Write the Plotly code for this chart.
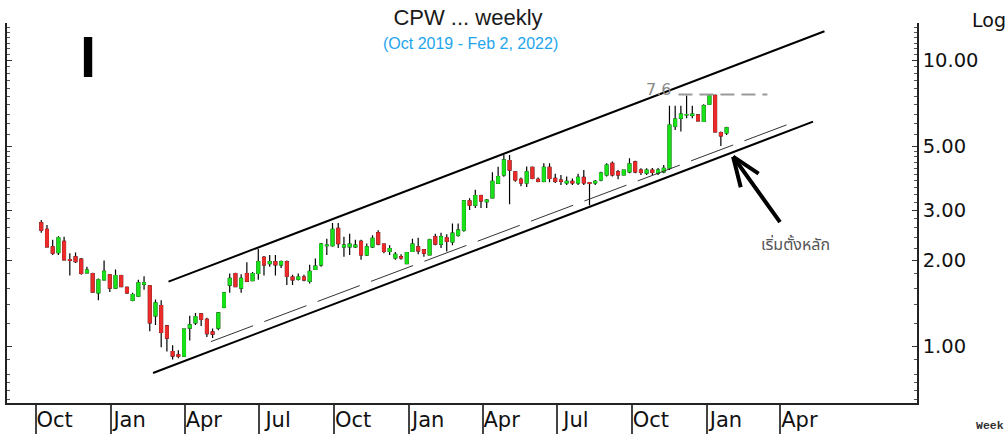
import math
import numpy as np
import pandas as pd
import plotly.graph_objects as go

# ---------------- data ----------------
first_week = "2019-10-08"
opens = [2.71, 2.57, 2.23, 2.13, 2.33, 2.01, 2.06, 2.02, 1.81, 1.80,
         1.54, 1.71, 1.78, 1.60, 1.77, 1.61, 1.45, 1.50, 1.65, 1.63,
         1.28, 1.39, 1.18, 0.96, 0.935, 0.925, 1.16, 1.21, 1.30, 1.245,
         1.125, 1.16, 1.37, 1.64, 1.80, 1.60, 1.80, 1.70, 1.80, 2.05,
         1.95, 1.98, 1.93, 1.98, 1.75, 1.72, 1.75, 1.69, 1.86, 1.93,
         2.25, 2.25, 2.59, 2.23, 2.23, 2.23, 2.33, 2.09, 2.23, 2.50,
         2.28, 2.15, 2.04, 2.06, 1.95, 2.15, 2.23, 2.18, 2.09, 2.42,
         2.28, 2.40, 2.32, 2.45, 2.55, 3.23, 3.12, 3.37, 3.21, 3.31,
         3.72, 3.98, 4.47, 4.08, 3.84, 3.73, 4.23, 3.84, 3.78, 4.23,
         3.87, 3.82, 3.73, 3.78, 3.73, 3.90, 3.74, 3.73, 3.82, 3.98,
         4.37, 4.08, 3.98, 4.08, 4.42, 4.14, 4.04, 4.14, 4.04, 4.08,
         4.20, 5.89, 6.28, 6.45, 6.43, 6.45, 6.12, 7.03, 7.55, 5.60,
         5.58]
highs = [2.77, 2.66, 2.36, 2.43, 2.42, 2.12, 2.13, 2.04, 1.90, 1.81,
         1.73, 2.00, 1.79, 1.86, 1.78, 1.62, 1.54, 1.71, 1.76, 1.64,
         1.46, 1.45, 1.19, 1.01, 0.97, 1.15, 1.28, 1.31, 1.31, 1.26,
         1.155, 1.32, 1.55, 1.80, 1.81, 1.79, 1.97, 1.82, 2.19, 2.07,
         2.09, 2.09, 2.00, 2.00, 1.78, 1.80, 1.78, 1.93, 2.03, 2.30,
         2.38, 2.70, 2.70, 2.42, 2.48, 2.36, 2.36, 2.29, 2.45, 2.55,
         2.29, 2.26, 2.14, 2.10, 2.14, 2.38, 2.40, 2.19, 2.38, 2.48,
         2.50, 2.47, 2.69, 2.69, 3.25, 3.30, 3.53, 3.39, 3.28, 4.07,
         4.25, 4.67, 4.67, 4.08, 3.90, 4.26, 4.26, 3.90, 4.37, 4.37,
         4.02, 3.98, 3.93, 3.87, 4.02, 4.14, 3.76, 3.82, 4.08, 4.37,
         4.43, 4.14, 4.16, 4.55, 4.46, 4.20, 4.20, 4.21, 4.21, 4.31,
         6.95, 6.95, 6.95, 7.55, 6.95, 6.49, 7.03, 7.60, 7.60, 5.65,
         5.87]
lows = [2.50, 2.22, 2.09, 2.09, 2.00, 1.77, 1.96, 1.78, 1.80, 1.54,
        1.45, 1.70, 1.55, 1.59, 1.61, 1.53, 1.44, 1.49, 1.58, 1.13,
        1.19, 0.994, 0.96, 0.90, 0.91, 0.92, 1.05, 1.19, 1.18, 1.08,
        1.07, 1.14, 1.36, 1.54, 1.61, 1.54, 1.68, 1.69, 1.71, 1.77,
        1.90, 1.77, 1.88, 1.64, 1.64, 1.70, 1.69, 1.66, 1.85, 1.90,
        2.09, 2.23, 2.21, 2.06, 2.09, 2.21, 2.01, 2.07, 2.21, 2.26,
        2.12, 2.09, 2.01, 2.01, 1.94, 2.14, 2.10, 2.06, 2.08, 2.26,
        2.21, 2.15, 2.26, 2.42, 2.52, 3.00, 3.05, 3.05, 3.05, 3.30,
        3.70, 3.92, 3.14, 3.77, 3.63, 3.61, 3.84, 3.75, 3.75, 3.75,
        3.73, 3.67, 3.67, 3.67, 3.67, 3.67, 3.12, 3.67, 3.78, 3.93,
        3.93, 3.84, 3.96, 4.03, 4.03, 3.98, 3.98, 3.98, 3.98, 4.03,
        4.14, 5.71, 5.65, 6.28, 6.28, 6.12, 6.09, 6.99, 5.61, 5.02,
        5.49]
closes = [2.55, 2.23, 2.12, 2.40, 2.01, 2.00, 1.98, 1.80, 1.85, 1.55,
          1.71, 1.83, 1.60, 1.77, 1.62, 1.54, 1.52, 1.67, 1.67, 1.21,
          1.42, 1.12, 1.07, 0.926, 0.925, 1.15, 1.19, 1.27, 1.245, 1.11,
          1.105, 1.31, 1.54, 1.73, 1.62, 1.73, 1.69, 1.80, 1.98, 1.93,
          1.98, 1.93, 1.98, 1.76, 1.71, 1.75, 1.71, 1.83, 1.91, 2.28,
          2.26, 2.57, 2.29, 2.26, 2.28, 2.26, 2.09, 2.23, 2.39, 2.28,
          2.15, 2.20, 2.10, 2.04, 2.13, 2.28, 2.16, 2.12, 2.36, 2.28,
          2.42, 2.33, 2.49, 2.55, 3.23, 3.12, 3.37, 3.23, 3.25, 3.78,
          3.93, 4.49, 4.14, 3.82, 3.73, 4.08, 3.87, 3.78, 4.23, 3.87,
          3.78, 3.78, 3.78, 3.73, 3.90, 3.73, 3.72, 3.78, 4.04, 4.31,
          3.98, 3.98, 4.14, 4.35, 4.08, 4.06, 4.14, 4.06, 4.14, 4.20,
          5.95, 6.24, 6.49, 6.47, 6.49, 6.15, 6.95, 7.53, 5.63, 5.45,
          5.82]

# channel lines (date, price)
upper_x = ["2020-03-12", "2022-05-25"]
upper_y = [1.685, 12.65]
lower_x = ["2020-02-22", "2022-05-11"]
lower_y = [0.808, 6.11]
inner_x = ["2020-05-03", "2022-04-19"]
inner_y = [1.04, 6.11]
peak_x = ["2021-11-27", "2022-03-16"]
peak_level = 7.6
arrow_x = "2022-02-02"
arrow_y = 4.61

tick_dates = ["2019-10-01", "2020-01-01", "2020-04-01", "2020-07-01", "2020-10-01",
              "2021-01-01", "2021-04-01", "2021-07-01", "2021-10-01", "2022-01-01",
              "2022-04-01"]
tick_labels = ["Oct", "Jan", "Apr", "Jul", "Oct", "Jan", "Apr", "Jul", "Oct", "Jan", "Apr"]
y_tickvals = [1, 2, 3, 5, 10]
y_ticktext = ["1.00", "2.00", "3.00", "5.00", "10.00"]
y_minor = [0.65, 0.7, 0.75, 0.8, 0.9, 1.2, 1.4, 1.6, 1.8, 2.2, 2.4, 2.6, 2.8,
           3.2, 3.4, 3.6, 3.8, 4.0, 4.2, 4.4, 4.6, 4.8, 5.5, 6.0, 6.5, 7.0, 7.5,
           8.0, 8.5, 9.0, 9.5, 10.5, 11, 11.5, 12, 12.5, 13]

title_text = "CPW ... weekly"
subtitle_text = "(Oct 2019 - Feb 2, 2022)"
note_text = "เริ่มตั้งหลัก"

# ---------------- figure ----------------
GREEN = "#19e319"
RED = "#ec2b2b"
dates = pd.date_range(first_week, periods=len(opens), freq="7D")
o = np.array(opens); c = np.array(closes)
body_hi = np.maximum(o, c)
body_lo = np.minimum(o, c)

fig = go.Figure()
fig.add_trace(go.Candlestick(
    x=dates, open=opens, high=highs, low=lows, close=closes,
    increasing=dict(line=dict(color="black", width=1.2), fillcolor=GREEN),
    decreasing=dict(line=dict(color="black", width=1.2), fillcolor=RED),
    whiskerwidth=0, showlegend=False, hoverinfo="skip"))
fig.add_trace(go.Candlestick(
    x=dates, open=opens, high=body_hi, low=body_lo, close=closes,
    increasing=dict(line=dict(color=GREEN, width=1), fillcolor=GREEN),
    decreasing=dict(line=dict(color=RED, width=1), fillcolor=RED),
    whiskerwidth=0, showlegend=False, hoverinfo="skip"))

fig.add_trace(go.Scatter(x=upper_x, y=upper_y, mode="lines",
                         line=dict(color="black", width=2), showlegend=False, hoverinfo="skip"))
fig.add_trace(go.Scatter(x=lower_x, y=lower_y, mode="lines",
                         line=dict(color="black", width=2), showlegend=False, hoverinfo="skip"))
fig.add_trace(go.Scatter(x=inner_x, y=inner_y, mode="lines",
                         line=dict(color="#333333", width=1, dash="45px,12px"),
                         showlegend=False, hoverinfo="skip"))
fig.add_trace(go.Scatter(x=peak_x, y=[peak_level, peak_level], mode="lines",
                         line=dict(color="#999999", width=2, dash="14px,7px"),
                         showlegend=False, hoverinfo="skip"))

ann = []
ann.append(dict(x=peak_x[0], y=math.log10(peak_level), xref="x", yref="y",
                text=f"{peak_level}", showarrow=False, xanchor="right", yanchor="middle",
                xshift=-5, yshift=5, font=dict(family="DejaVu Sans", size=16, color="#8a8a8a")))
# arrow: shaft and open head
for ax_, ay_ in [(48, 67), (27, 18), (8, 32)]:
    ann.append(dict(x=arrow_x, y=math.log10(arrow_y), xref="x", yref="y", text="",
                    showarrow=True, arrowhead=0, arrowwidth=4, arrowcolor="black",
                    ax=ax_, ay=ay_, axref="pixel", ayref="pixel"))
ann.append(dict(x=(795 - 7) / 910, y=(403 - 245) / 380, xref="paper", yref="paper",
                text=note_text, showarrow=False, xanchor="center", yanchor="middle",
                font=dict(family="Noto Sans Thai, Tahoma, sans-serif", size=16, color="#555555")))
ann.append(dict(x=(471 - 7) / 910, y=(403 - 44) / 380, xref="paper", yref="paper",
                text=subtitle_text, showarrow=False, xanchor="center", yanchor="middle",
                font=dict(family="Liberation Sans", size=16, color="#1ea5ec")))
ann.append(dict(x=(88 - 7) / 910, y=(403 - 56) / 380, xref="paper", yref="paper",
                text="<b>I</b>", showarrow=False, xanchor="center", yanchor="middle",
                font=dict(family="Liberation Sans", size=58, color="black")))
ann.append(dict(x=(970 - 7) / 910, y=(403 - 20) / 380, xref="paper", yref="paper",
                text="Log", showarrow=False, xanchor="left", yanchor="middle",
                font=dict(family="DejaVu Sans", size=19, color="#111111")))
ann.append(dict(x=(974 - 7) / 910, y=(403 - 425) / 380, xref="paper", yref="paper",
                text="<b>Week</b>", showarrow=False, xanchor="left", yanchor="middle",
                font=dict(family="Liberation Mono", size=11.5, color="#333333")))

fig.update_layout(
    width=1006, height=434,
    margin=dict(l=7, r=89, t=23, b=31, autoexpand=False),
    paper_bgcolor="white", plot_bgcolor="white",
    showlegend=False,
    title=dict(text=title_text, x=468 / 1006, y=1 - 17 / 434, xanchor="center", yanchor="middle",
               xref="container", yref="container",
               font=dict(family="Liberation Sans", size=22, color="#1a1a1a")),
    annotations=ann,
    xaxis=dict(type="date", range=["2019-08-27", "2022-09-15 10:00"],
               rangeslider=dict(visible=False), showgrid=False, zeroline=False,
               automargin=False,
               showline=True, linecolor="#222222", linewidth=1.5,
               tickmode="array", tickvals=tick_dates, ticktext=tick_labels,
               ticks="outside", ticklen=29, tickwidth=1.5, tickcolor="#444444",
               ticklabelshift=19, ticklabelstandoff=-32,
               tickfont=dict(family="DejaVu Sans", size=21, color="#111111")),
    yaxis=dict(type="log", range=[-0.1976, 1.1311], side="right",
               automargin=False,
               showgrid=False, zeroline=False, showline=True, mirror="ticks",
               linecolor="#222222", linewidth=1.5,
               tickmode="array", tickvals=y_tickvals, ticktext=y_ticktext,
               ticks="inside", ticklen=5, tickwidth=1.2, tickcolor="#333333",
               tickfont=dict(family="DejaVu Sans", size=19.5, color="#111111"),
               minor=dict(tickmode="array", tickvals=y_minor, ticks="inside",
                          ticklen=3, tickwidth=1, tickcolor="#555555", showgrid=False)),
)

fig.write_html("out.html", config={"displayModeBar": False},
               post_script="document.body.style.margin='0';")
